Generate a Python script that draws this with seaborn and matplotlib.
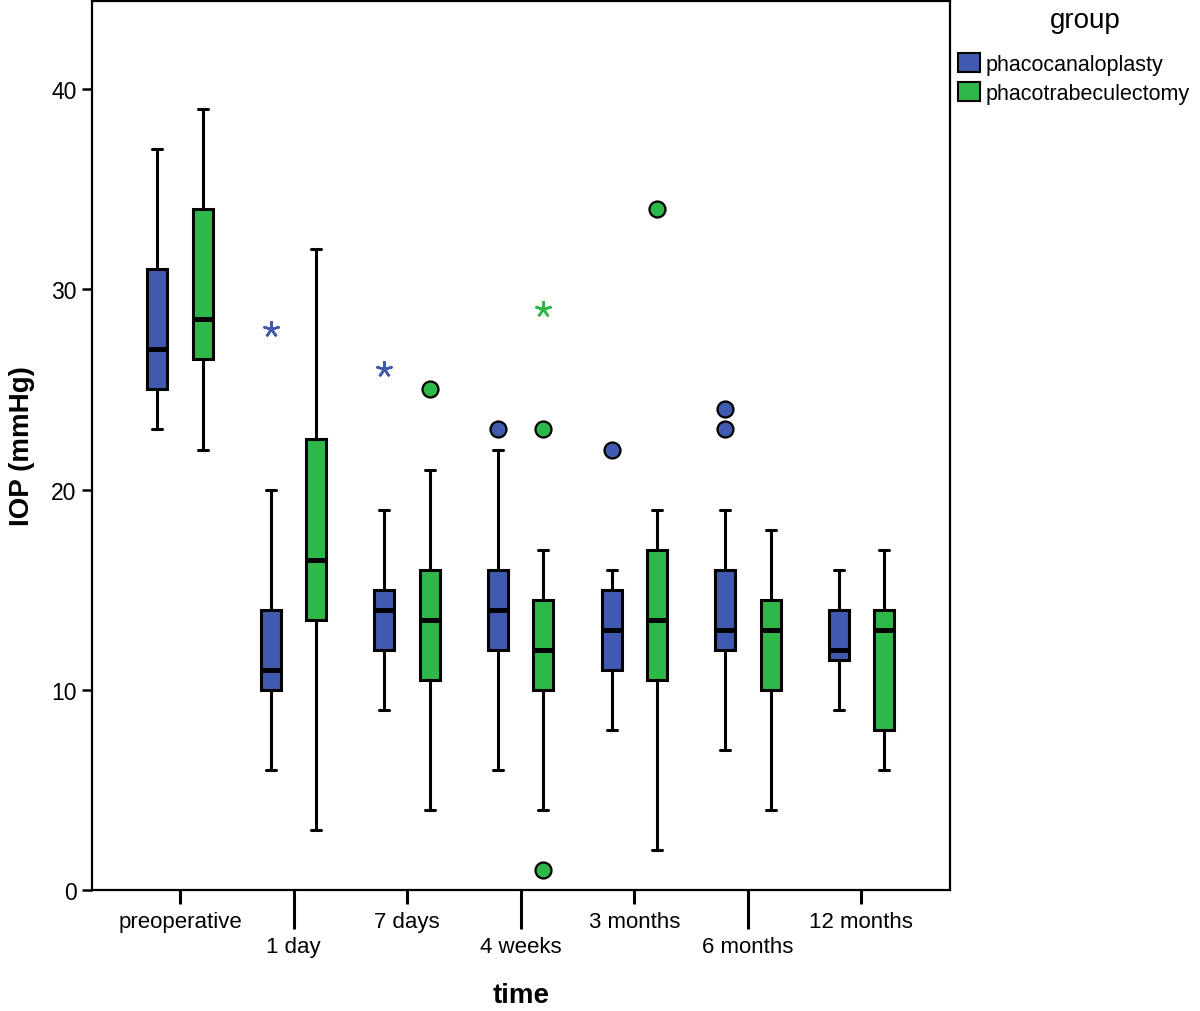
import numpy as np
import pandas as pd
import matplotlib
matplotlib.use("Agg")
import matplotlib.pyplot as plt
import seaborn as sns
from matplotlib.patches import Patch

# five-number summaries (IOP, mmHg)
times = ['preoperative', '1 day', '7 days', '4 weeks', '3 months', '6 months', '12 months']
groups = ['phacocanaloplasty', 'phacotrabeculectomy']
colors = ['#3f5aae', '#2eb84a']

canal_lo = [23, 6, 9, 6, 8, 7, 9]
canal_q1 = [25, 10, 12, 12, 11, 12, 11.5]
canal_med = [27, 11, 14, 14, 13, 13, 12]
canal_q3 = [31, 14, 15, 16, 15, 16, 14]
canal_hi = [37, 20, 19, 22, 16, 19, 16]

trab_lo = [22, 3, 4, 4, 2, 4, 6]
trab_q1 = [26.5, 13.5, 10.5, 10, 10.5, 10, 8]
trab_med = [28.5, 16.5, 13.5, 12, 13.5, 13, 13]
trab_q3 = [34, 22.5, 16, 14.5, 17, 14.5, 14]
trab_hi = [39, 32, 21, 17, 19, 18, 17]

# outliers (circles) and extremes (asterisks)
out_time = ['4 weeks', '3 months', '6 months', '6 months', '7 days', '4 weeks', '4 weeks', '3 months']
out_group = ['phacocanaloplasty'] * 4 + ['phacotrabeculectomy'] * 4
out_iop = [23, 22, 23, 24, 25, 23, 1, 34]

ext_time = ['1 day', '7 days', '4 weeks']
ext_group = ['phacocanaloplasty', 'phacocanaloplasty', 'phacotrabeculectomy']
ext_iop = [28, 26, 29]

# long table: one row per summary value, so the quartiles land exactly on them
rows = []
summaries = {
    groups[0]: [canal_lo, canal_q1, canal_med, canal_q3, canal_hi],
    groups[1]: [trab_lo, trab_q1, trab_med, trab_q3, trab_hi],
}
for g, stats in summaries.items():
    for i, t in enumerate(times):
        for s in stats:
            rows.append({'time': t, 'group': g, 'iop': s[i]})
df = pd.DataFrame(rows)

sns.set_style('white')
plt.rcParams['font.family'] = ['Liberation Sans', 'DejaVu Sans']
plt.rcParams['text.color'] = 'black'
plt.rcParams['axes.labelcolor'] = 'black'
plt.rcParams['xtick.color'] = 'black'
plt.rcParams['ytick.color'] = 'black'

fig = plt.figure(figsize=(12, 10.12), dpi=100)
ax = fig.add_axes([92 / 1200, 121 / 1012, 858 / 1200, 889 / 1012])

sns.boxplot(data=df, x='time', y='iop', hue='group', order=times, hue_order=groups,
            palette=colors, saturation=1, whis=(0, 100), width=0.8, gap=0.56,
            linewidth=2.2, linecolor='black', showfliers=False, legend=False,
            medianprops=dict(linewidth=3.6, color='black'), ax=ax)

offset = {groups[0]: -0.2, groups[1]: 0.2}
col = dict(zip(groups, colors))
for t, g, v in zip(out_time, out_group, out_iop):
    ax.plot(times.index(t) + offset[g], v, marker='o', ms=11.5, mfc=col[g],
            mec='black', mew=1.6, ls='none', zorder=5, clip_on=False)
for t, g, v in zip(ext_time, ext_group, ext_iop):
    ax.plot(times.index(t) + offset[g], v, marker=(5, 2, 0), ms=12, mec=col[g],
            mew=1.8, ls='none', zorder=5)

ax.set_xlim(-0.775, 6.78)
ax.set_ylim(0, 44.4)
ax.set_yticks([0, 10, 20, 30, 40])
ax.tick_params(axis='y', length=7, width=1.8, labelsize=16.5, pad=4, left=True)

# staggered category labels: even on short ticks, odd on long ticks
ax.set_xticks([0, 2, 4, 6], [times[i] for i in [0, 2, 4, 6]])
ax.set_xticks([1, 3, 5], [times[i] for i in [1, 3, 5]], minor=True)
ax.tick_params(axis='x', which='major', length=10, width=2.2, labelsize=16, pad=5, bottom=True)
ax.tick_params(axis='x', which='minor', length=28, width=2.2, labelsize=16, pad=5, bottom=True)

for sp in ax.spines.values():
    sp.set_visible(True)
    sp.set_color('black')
    sp.set_linewidth(1.6)

ax.set_xlabel('time', fontsize=20, fontweight='bold', labelpad=18)
ax.set_ylabel('IOP (mmHg)', fontsize=20, fontweight='bold', labelpad=12)

handles = [Patch(facecolor=c, edgecolor='black', linewidth=1.5) for c in colors]
fig.text(1085 / 1200, 1 - 21 / 1012, 'group', fontsize=20, ha='center', va='center')
fig.legend(handles, groups, loc='upper left', bbox_to_anchor=(943 / 1200, 1 - 39 / 1012),
           frameon=False, fontsize=15.5, handlelength=1.0, handleheight=1.0,
           handletextpad=0.3, labelspacing=0.3, borderpad=0.2)

plt.savefig('out.png', dpi=100)
